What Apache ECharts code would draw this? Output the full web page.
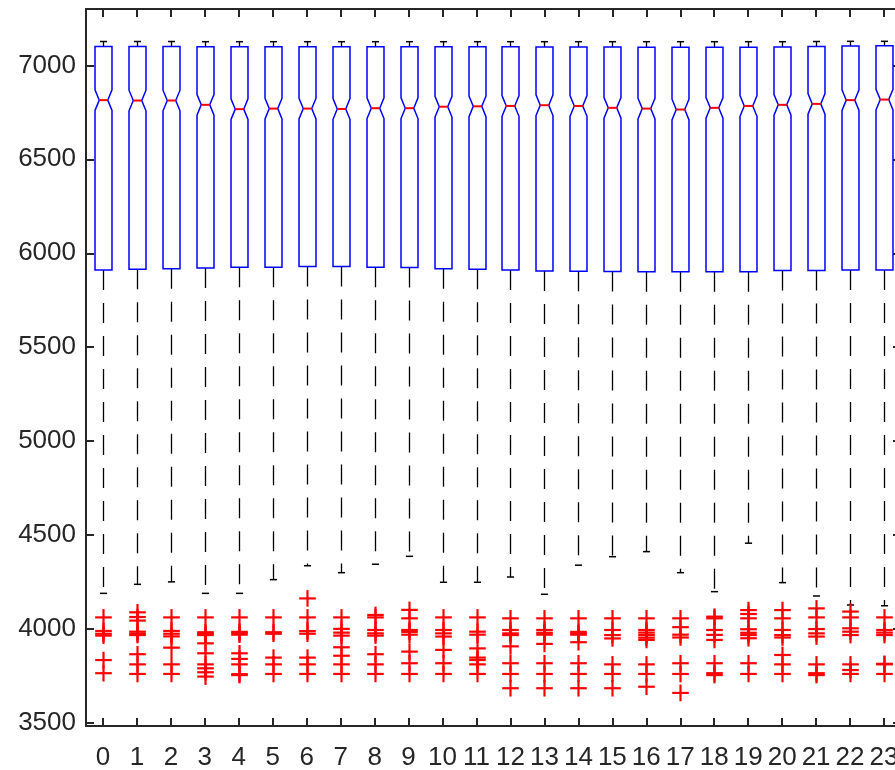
<!DOCTYPE html>
<html>
<head>
<meta charset="utf-8">
<script src="https://cdn.jsdelivr.net/npm/echarts@6/dist/echarts.min.js"></script>
<style>
html,body{margin:0;padding:0;background:#fff;}
#chart{width:895px;height:770px;}
</style>
</head>
<body>
<div id="chart"></div>
<script>
const categories = ['0','1','2','3','4','5','6','7','8','9','10','11','12','13','14','15','16','17','18','19','20','21','22','23'];
const yTickValues = [3500, 4000, 4500, 5000, 5500, 6000, 6500, 7000];
const whiskerHigh = [7127,7127,7127,7126,7126,7126,7126,7126,7126,7126,7126,7126,7126,7126,7126,7126,7126,7126,7126,7126,7126,7127,7128,7128];
const upperQuartile = [7100,7100,7100,7099,7099,7099,7099,7099,7099,7099,7099,7099,7099,7098,7098,7098,7097,7097,7097,7097,7098,7100,7103,7104];
const medians = [6815,6813,6813,6790,6767,6770,6770,6768,6772,6772,6780,6782,6784,6788,6784,6774,6770,6765,6774,6784,6790,6795,6815,6818];
const lowerQuartile = [5911,5915,5918,5922,5926,5926,5929,5930,5926,5924,5918,5915,5911,5906,5904,5903,5901,5901,5901,5901,5908,5908,5911,5911];
const whiskerLow = [4190,4238,4251,4190,4190,4263,4337,4300,4345,4387,4249,4249,4277,4185,4340,4385,4412,4300,4199,4457,4247,4176,4128,4124];
const notchHalfWidth = 55;
const outliers = [
  [4062,3990,3975,3965,3835,3765],
  [4089,4064,4045,3986,3975,3968,3866,3812,3761],
  [4062,3990,3975,3961,3901,3812,3761],
  [4062,3983,3975,3968,3924,3871,3812,3791,3770,3747],
  [4062,3985,3977,3970,3871,3841,3812,3760,3755],
  [4062,3983,3975,3848,3812,3761],
  [4163,4062,3989,3975,3848,3812,3761],
  [4062,4001,3981,3965,3903,3858,3812,3761],
  [4075,4062,3995,3977,3965,3866,3812,3761],
  [4102,4057,3995,3985,3970,3880,3818,3761],
  [4062,3995,3977,3960,3889,3818,3761],
  [4062,3986,3970,3897,3848,3835,3812,3761],
  [4057,3995,3977,3968,3908,3818,3761,3685],
  [4057,3995,3980,3970,3921,3818,3761,3685],
  [4057,3985,3975,3970,3930,3818,3761,3685],
  [4057,3995,3968,3950,3812,3761,3685],
  [4057,3995,3981,3968,3954,3942,3812,3761,3693],
  [4057,4010,3970,3955,3818,3761,3660],
  [4066,4057,3995,3969,3942,3818,3765,3755],
  [4101,4080,4057,3999,3980,3968,3951,3818,3761],
  [4101,4057,3995,3968,3955,3862,3812,3761],
  [4110,4062,4000,3977,3960,3812,3765,3755],
  [4093,4062,4004,3986,3968,3812,3782,3761],
  [4062,3995,3981,3968,3815,3812,3761]
];

const FONT = '"Liberation Sans", Arial, Helvetica, sans-serif';
const AXIS_COLOR = '#262626';

const boxData = categories.map((c, i) => [i, whiskerLow[i], lowerQuartile[i], medians[i], upperQuartile[i], whiskerHigh[i]]);
const outlierData = [];
outliers.forEach((arr, i) => arr.forEach(v => outlierData.push([i, v])));

function renderBox(params, api) {
  const i = api.value(0);
  const wl = api.value(1), q1 = api.value(2), med = api.value(3), q3 = api.value(4), wh = api.value(5);
  const x = Math.round(api.coord([i, med])[0]) + 0.5;
  const w = api.size([1, 0])[0] * 0.25;
  const Y = v => api.coord([i, v])[1];
  const yq1 = Y(q1), yq3 = Y(q3), ym = Y(med), ynh = Y(med + notchHalfWidth), ynl = Y(med - notchHalfWidth);
  const ywl = Y(wl), ywh = Y(wh);
  const cap = w * 0.42;
  const whiskerStyle = {stroke: '#000', lineWidth: 1.3, lineDash: [20, 13], fill: null};
  return {
    type: 'group',
    children: [
      {type: 'line', shape: {x1: x, y1: yq1, x2: x, y2: ywl}, style: whiskerStyle},
      {type: 'line', shape: {x1: x - cap, y1: ywl, x2: x + cap, y2: ywl}, style: {stroke: '#000', lineWidth: 1.5}},
      {type: 'line', shape: {x1: x, y1: yq3, x2: x, y2: ywh}, style: {stroke: '#000', lineWidth: 1.3}},
      {type: 'line', shape: {x1: x - cap, y1: ywh, x2: x + cap, y2: ywh}, style: {stroke: '#000', lineWidth: 1.5}},
      {type: 'polygon', shape: {points: [
        [x - w, yq3], [x + w, yq3], [x + w, ynh], [x + w / 2, ym], [x + w, ynl], [x + w, yq1],
        [x - w, yq1], [x - w, ynl], [x - w / 2, ym], [x - w, ynh]
      ]}, style: {fill: 'none', stroke: '#0000ff', lineWidth: 1.5}},
      {type: 'line', shape: {x1: x - w / 2, y1: ym, x2: x + w / 2, y2: ym}, style: {stroke: '#ff0000', lineWidth: 2}}
    ]
  };
}

function renderOutlier(params, api) {
  const p = api.coord([api.value(0), api.value(1)]);
  const cx = Math.round(p[0]) + 0.5;
  const s = 8.3;
  const st = {stroke: '#ff0000', lineWidth: 2.2};
  return {
    type: 'group',
    children: [
      {type: 'line', shape: {x1: cx - s, y1: p[1], x2: cx + s, y2: p[1]}, style: st},
      {type: 'line', shape: {x1: cx, y1: p[1] - s, x2: cx, y2: p[1] + s}, style: st}
    ]
  };
}

const chart = echarts.init(document.getElementById('chart'), null, {renderer: 'canvas'});
const axisLine = {show: true, onZero: false, lineStyle: {color: AXIS_COLOR, width: 2}};
const tickStyle = {color: AXIS_COLOR, width: 2};
chart.setOption({
  animation: false,
  backgroundColor: '#fff',
  grid: {left: 86, right: -6, top: 9, bottom: 44, containLabel: false, outerBoundsMode: 'none'},
  xAxis: [
    {type: 'category', data: categories, position: 'bottom', boundaryGap: true,
     axisLine: axisLine,
     axisTick: {show: true, inside: true, alignWithLabel: true, length: 8, lineStyle: tickStyle},
     axisLabel: {show: true, color: AXIS_COLOR, fontSize: 26, fontFamily: FONT, margin: 19, interval: 0},
     splitLine: {show: false}},
    {type: 'category', data: categories, position: 'top', boundaryGap: true,
     axisLine: axisLine,
     axisTick: {show: true, inside: true, alignWithLabel: true, length: 8, lineStyle: tickStyle},
     axisLabel: {show: false}, splitLine: {show: false}}
  ],
  yAxis: [
    {type: 'value', min: 3484, max: 7300, position: 'left',
     axisLine: axisLine,
     axisTick: {show: true, inside: true, length: 8, customValues: yTickValues, lineStyle: tickStyle},
     axisLabel: {show: true, customValues: yTickValues, color: AXIS_COLOR, fontSize: 26, fontFamily: FONT, margin: 10,
                 formatter: v => String(v)},
     splitLine: {show: false}},
    {type: 'value', min: 3484, max: 7300, position: 'right',
     axisLine: axisLine,
     axisTick: {show: true, inside: true, length: 8, customValues: yTickValues, lineStyle: tickStyle},
     axisLabel: {show: false}, splitLine: {show: false}}
  ],
  series: [
    {type: 'custom', xAxisIndex: 0, yAxisIndex: 0, renderItem: renderBox, data: boxData,
     encode: {x: 0, y: [1, 2, 3, 4, 5]}, clip: false, z: 2},
    {type: 'custom', xAxisIndex: 0, yAxisIndex: 0, renderItem: renderOutlier, data: outlierData,
     encode: {x: 0, y: 1}, clip: false, z: 3}
  ]
});
</script>
</body>
</html>
